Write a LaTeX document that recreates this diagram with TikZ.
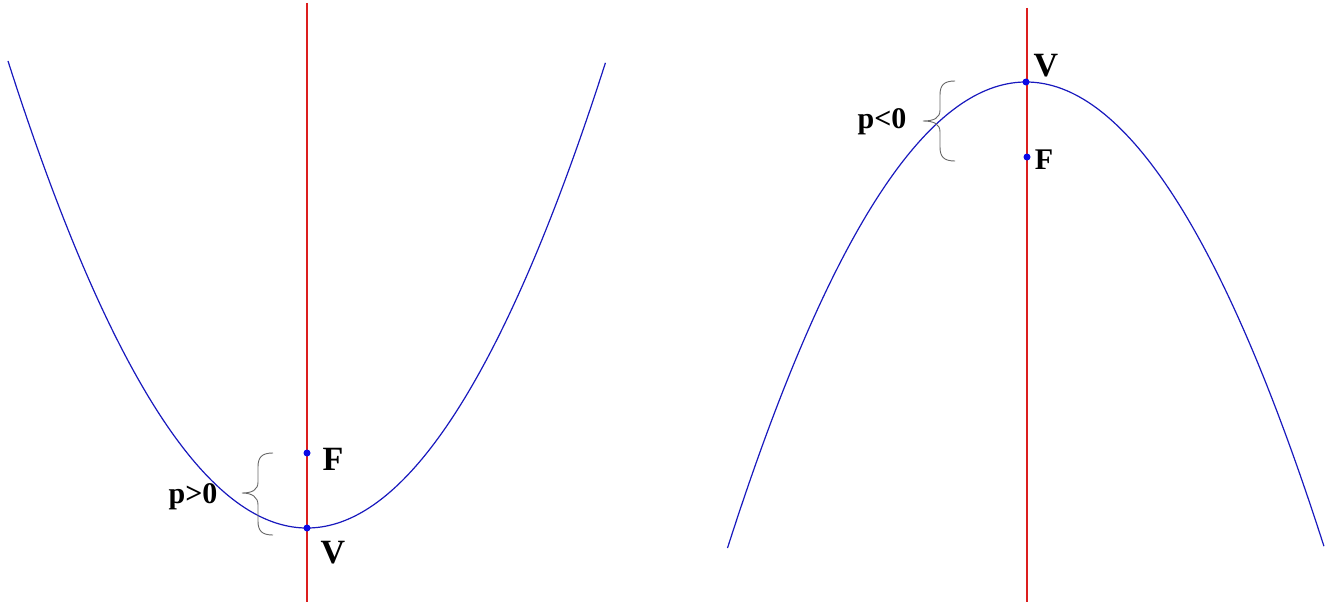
\documentclass[tikz,border=0pt]{standalone}
\usepackage{fontspec}
\setmainfont{Liberation Serif}
\begin{document}
\begin{tikzpicture}[x=1pt,y=-1pt,
  axis/.style={draw={rgb,255:red,220;green,30;blue,30},line width=1.1pt},
  curve/.style={draw={rgb,255:red,25;green,25;blue,190},line width=1.2pt},
  pt/.style={circle,fill={rgb,255:red,10;green,10;blue,230},inner sep=0pt,minimum size=7pt},
  lbl/.style={font=\bfseries\fontsize{34}{34}\selectfont,inner sep=0pt},
  plbl/.style={font=\bfseries\fontsize{30}{30}\selectfont,inner sep=0pt},
  bracepath/.style={draw={rgb,255:red,105;green,105;blue,105},line width=0.9pt}]
\path[use as bounding box,fill=white] (0,0) rectangle (1330,602);
% left figure
\coordinate (LT) at (307,3);
\coordinate (LB) at (307,602);
\draw[axis] (LT) -- (LB);
\draw[curve] plot[domain=-1:1,samples=200] ({307+299*\x},{528-467*\x*\x});
\node[pt] (V1) at (307,528) {};
\node[pt] (F1) at (307,453) {};
\node[lbl] (V1l) at (333,553) {V};
\node[lbl] (F1l) at (333,459) {F};
\draw[bracepath] (273,453) .. controls (262,453) and (258,457) .. (258,467) -- (258,482)
  .. controls (258,490) and (252,493) .. (242,493)
  .. controls (252,493) and (258,497) .. (258,505) -- (258,521)
  .. controls (258,531) and (262,535) .. (273,535);
\node[plbl] (P1) at (193,497) {p>0};
% right figure
\coordinate (RT) at (1027,8);
\coordinate (RB) at (1027,602);
\draw[axis] (RT) -- (RB);
\draw[curve] plot[domain=-1:1,samples=200] ({1026+298.5*\x},{82+466*\x*\x});
\node[pt] (V2) at (1026,82) {};
\node[pt] (F2) at (1027,157) {};
\node[lbl] (V2l) at (1046,66) {V};
\node[plbl] (F2l) at (1044,160) {F};
\draw[bracepath] (955,81) .. controls (944,81) and (940,85) .. (940,95) -- (940,110)
  .. controls (940,118) and (934,121) .. (923,121)
  .. controls (934,121) and (940,124) .. (940,132) -- (940,147)
  .. controls (940,157) and (944,161) .. (955,161);
\node[plbl] (P2) at (882,122) {p<0};
\end{tikzpicture}
\end{document}
